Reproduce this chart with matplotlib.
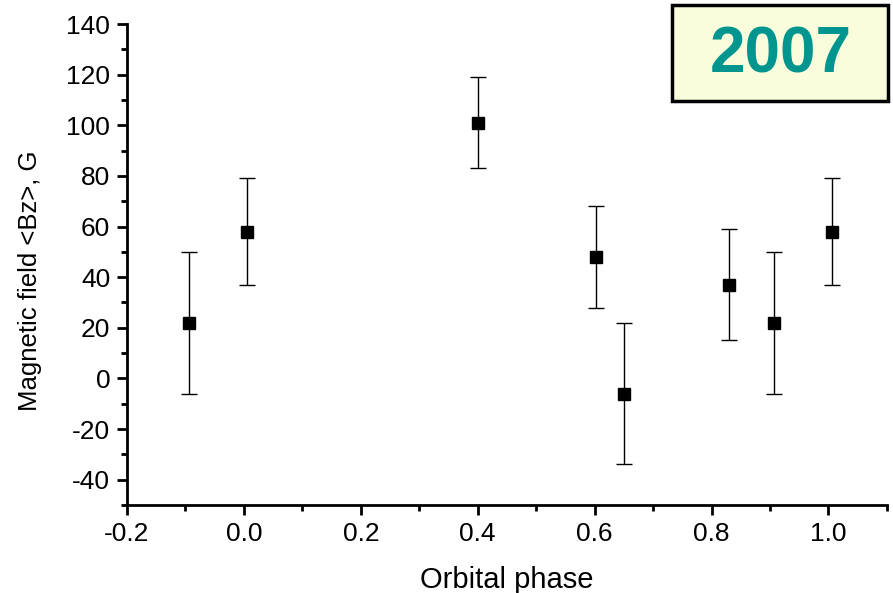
import matplotlib
matplotlib.use("Agg")
import matplotlib.pyplot as plt
from matplotlib.ticker import MultipleLocator
from matplotlib.patches import Rectangle

plt.rcParams['font.family'] = ['Liberation Sans', 'DejaVu Sans']
plt.rcParams['axes.unicode_minus'] = False

# Orbital phase, mean longitudinal field and its error
phase = [-0.094, 0.006, 0.400, 0.603, 0.650, 0.829, 0.906, 1.006]
bz = [22, 58, 101, 48, -6, 37, 22, 58]
bz_err = [28, 21, 18, 20, 28, 22, 28, 21]

fig = plt.figure(figsize=(8.93, 5.93), dpi=100)
ax = fig.add_axes([0.1422, 0.1484, 0.851, 0.8111])

ax.errorbar(phase, bz, yerr=bz_err, fmt='s', color='black', markersize=8,
            ecolor='black', elinewidth=1, capsize=6, capthick=1)

ax.set_xlim(-0.2, 1.1)
ax.set_ylim(-50, 140)
ax.xaxis.set_major_locator(MultipleLocator(0.2))
ax.xaxis.set_minor_locator(MultipleLocator(0.1))
ax.yaxis.set_major_locator(MultipleLocator(20))
ax.yaxis.set_minor_locator(MultipleLocator(10))
ax.xaxis.set_major_formatter(plt.FuncFormatter(lambda v, p: f"{v:.1f}"))

for s in ['top', 'right']:
    ax.spines[s].set_visible(False)
for s in ['left', 'bottom']:
    ax.spines[s].set_linewidth(2)

ax.tick_params(which='major', length=7, width=2, labelsize=19, pad=5)
ax.tick_params(which='minor', length=4, width=2)

ax.set_xlabel('Orbital phase', fontsize=21, labelpad=15)
ax.set_ylabel('Magnetic field <Bz>, G', fontsize=18.5)
ax.yaxis.set_label_coords(-0.112, 0.466)

# year label box
fig.patches.append(Rectangle((0.7525, 0.8297), 0.2419, 0.1619, transform=fig.transFigure,
                             facecolor='#FAFDDC', edgecolor='black', linewidth=2.5, zorder=5))
fig.text(0.8746, 0.906, '2007', fontsize=46, fontweight='bold', color='#00968F',
         ha='center', va='center', zorder=6)

fig.savefig('out.png', dpi=100)
